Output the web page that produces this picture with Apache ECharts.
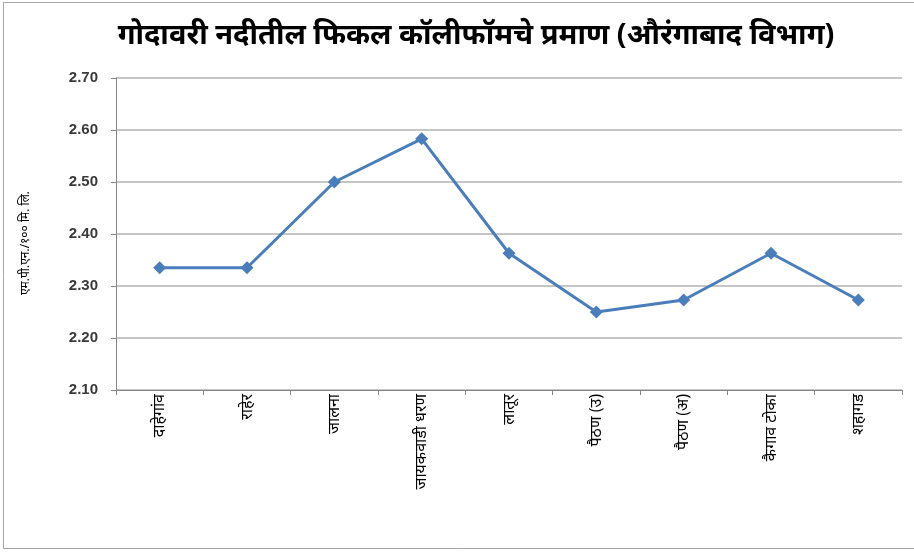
<!DOCTYPE html>
<html><head><meta charset="utf-8">
<script src="https://cdn.jsdelivr.net/npm/echarts@6/dist/echarts.min.js"></script>
<style>html,body{margin:0;padding:0;background:#fff}#c{width:914px;height:554px}</style>
</head><body><div id="c"></div>
<script>
const titleText = 'गोदावरी नदीतील फिकल कॉलीफॉमचे प्रमाण (औरंगाबाद विभाग)';
const yAxisName = 'एम.पी.एन./१०० मि. लि.';
const categories = ['दाहेगांव','राहेर','जालना','जायकवाडी धरण','लातूर','पैठण (उ)','पैठण (अ)','कैगाव टोका','शहागड'];
const values = [2.335, 2.335, 2.50, 2.583, 2.363, 2.25, 2.273, 2.363, 2.273];
const yMin = 2.10, yMax = 2.70, yStep = 0.10;

const chart = echarts.init(document.getElementById('c'), null, {renderer:'canvas'});
chart.setOption({
  animation:false,
  backgroundColor:'#fff',
  graphic:[{type:'rect',shape:{x:3.5,y:2.5,width:920,height:546},style:{fill:'none',stroke:'#a6a6a6',lineWidth:1}}],
  title:{text:titleText,left:471,top:16,textAlign:'center',
    textStyle:{fontFamily:'Noto Sans, sans-serif',fontSize:29,fontWeight:'bold',color:'#000'}},
  grid:{left:116,right:12,top:78,bottom:164},
  xAxis:{type:'category',data:categories,boundaryGap:true,
    axisLine:{lineStyle:{color:'#868686',width:1}},
    axisTick:{show:true,length:5,lineStyle:{color:'#868686'}},
    axisLabel:{rotate:90,fontSize:16,color:'#000',fontFamily:'Noto Sans, sans-serif',margin:4}},
  yAxis:{type:'value',min:yMin,max:yMax,interval:yStep,
    name:yAxisName,nameLocation:'middle',nameRotate:90,nameGap:84,
    nameTextStyle:{fontSize:12,color:'#000',fontFamily:'Noto Sans, sans-serif',padding:[0,0,0,-18]},
    axisLine:{show:true,lineStyle:{color:'#868686'}},
    axisTick:{show:true,length:5,lineStyle:{color:'#868686'}},
    splitLine:{lineStyle:{color:'#b3b3b3',width:1.5}},
    axisLabel:{formatter:v=>v.toFixed(2),fontSize:15,fontWeight:'bold',color:'#3a3a3a',fontFamily:'Liberation Sans, sans-serif',margin:18}},
  series:[{type:'line',data:values,symbol:'diamond',symbolSize:13,
    lineStyle:{color:'#4a7ebb',width:3},itemStyle:{color:'#4a7ebb'}}]
});
</script></body></html>
